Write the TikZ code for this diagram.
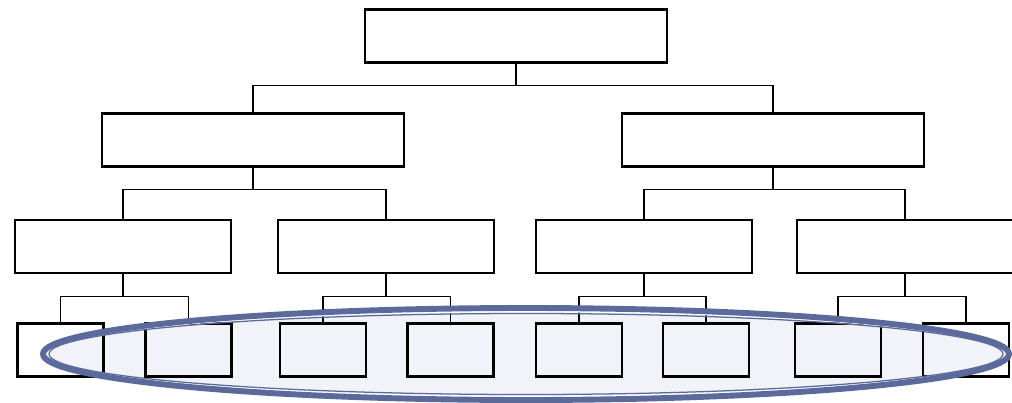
\documentclass[tikz,border=0pt]{standalone}
\usepackage{tikz}
\usetikzlibrary{positioning}
\definecolor{ringblue}{HTML}{5B6A9B}
\definecolor{ringfill}{HTML}{F1F3F9}
\tikzset{
  box/.style={draw, rectangle, line width=1.6pt, inner sep=0pt},
  top/.style={box, minimum width=7.55cm, minimum height=1.33cm},
  mid/.style={box, minimum width=7.55cm, minimum height=1.33cm},
  low/.style={box, minimum width=5.4cm, minimum height=1.31cm},
  leaf/.style={box, minimum width=2.15cm, minimum height=1.33cm},
  stem/.style={line width=1.7pt},
  bar/.style={line width=0.9pt}
}
\begin{document}
\begin{tikzpicture}[x=0.025cm, y=-0.025cm]
            \useasboundingbox (0,0) rectangle (1012,402);
            % ring fill behind the leaves
            \fill[ringfill] (526,354) ellipse [x radius=483, y radius=46];

            \node[top] (r) at (516,36) {};
            \node[mid] (a) at (253,140) {};
            \node[mid] (b) at (773,140) {};
            \node[low] (aa) at (123,246.5) {};
            \node[low] (ab) at (386,246.5) {};
            \node[low] (ba) at (644,246.5) {};
            \node[low] (bb) at (905,246.5) {};
            \node[leaf] (aa1) at (60.5,350) {};
            \node[leaf] (aa2) at (188.5,350) {};
            \node[leaf] (ab1) at (323,350) {};
            \node[leaf] (ab2) at (450.5,350) {};
            \node[leaf] (ba1) at (579,350) {};
            \node[leaf] (ba2) at (706,350) {};
            \node[leaf] (bb1) at (838,350) {};
            \node[leaf] (bb2) at (966,350) {};

            % connectors
            \draw[stem] (r.south) -- ++(0,22) coordinate (j);
            \draw[bar] (a.north) |- (j) -| (b.north);
            \draw[stem] (a.south) -- ++(0,22) coordinate (ja);
            \draw[bar] (aa.north) |- (ja) -| (ab.north);
            \draw[stem] (b.south) -- ++(0,22) coordinate (jb);
            \draw[bar] (ba.north) |- (jb) -| (bb.north);
            \draw[stem] (aa.south) -- ++(0,23) coordinate (jaa);
            \draw[bar] (aa1.north) |- (jaa) -| (aa2.north);
            \draw[stem] (ab.south) -- ++(0,23) coordinate (jab);
            \draw[bar] (ab1.north) |- (jab) -| (ab2.north);
            \draw[stem] (ba.south) -- ++(0,23) coordinate (jba);
            \draw[bar] (ba1.north) |- (jba) -| (ba2.north);
            \draw[stem] (bb.south) -- ++(0,23) coordinate (jbb);
            \draw[bar] (bb1.north) |- (jbb) -| (bb2.north);

            % ring outline on top
            \draw[white, line width=1.8pt] (526,354) ellipse [x radius=479.5, y radius=43];
            \draw[ringblue, line width=4.2pt] (526,354) ellipse [x radius=483, y radius=46];
            \draw[ringblue, line width=0.9pt] (526,354) ellipse [x radius=477, y radius=40.5];
\end{tikzpicture}
\end{document}
